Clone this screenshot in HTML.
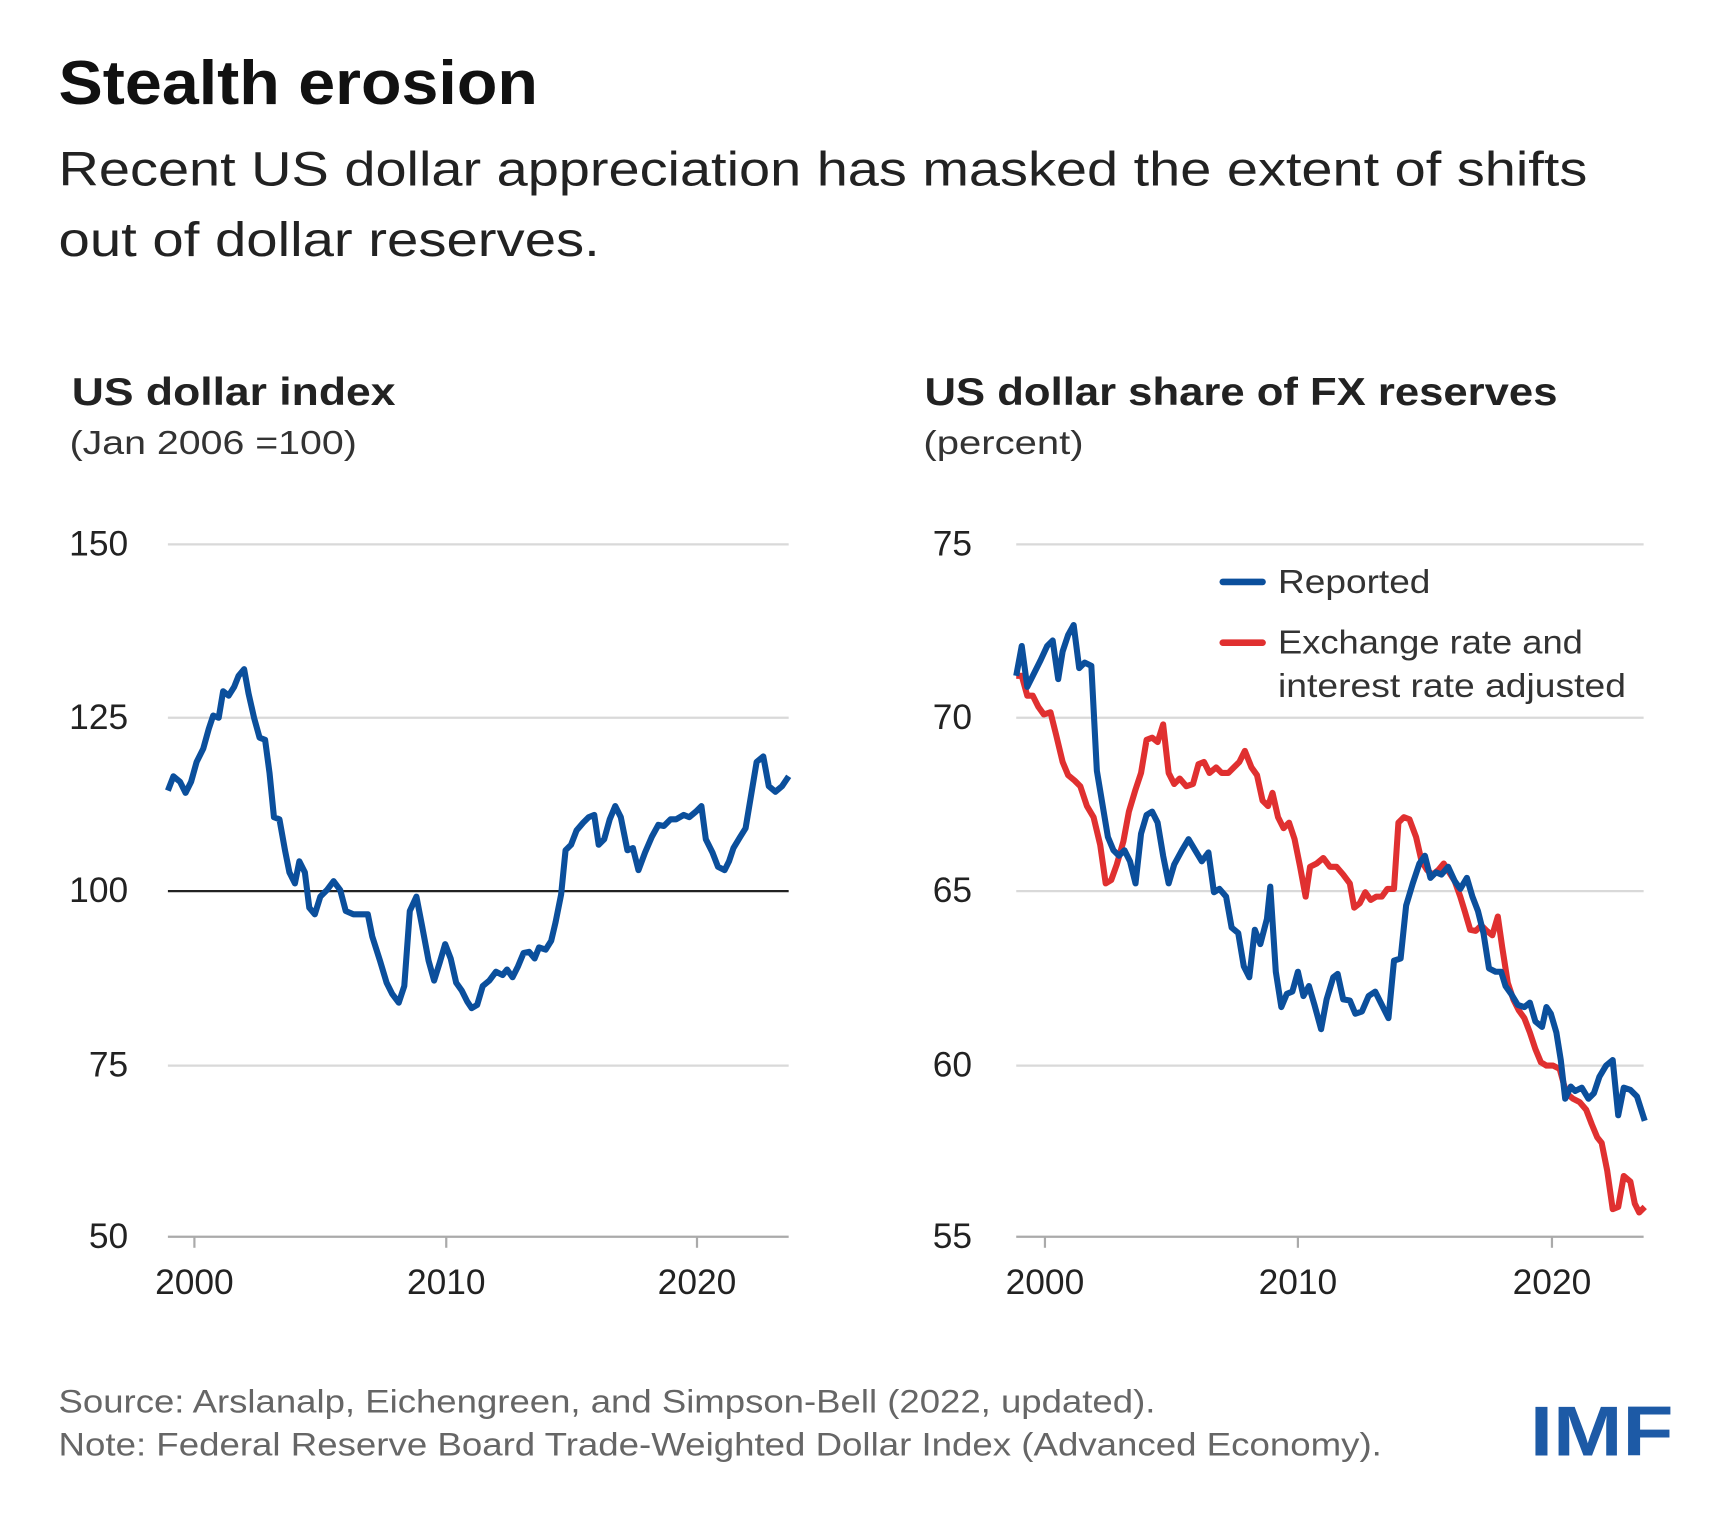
<!DOCTYPE html>
<html><head><meta charset="utf-8"><style>
html,body{margin:0;padding:0;background:#fff;}
svg{display:block;}
text{font-family:"Liberation Sans",sans-serif;}
</style></head><body>
<svg width="1732" height="1536" viewBox="0 0 1568 1391" preserveAspectRatio="none" xmlns="http://www.w3.org/2000/svg">
<rect width="1568" height="1391" fill="#fff"/>
<text x="53" y="94" font-size="56" font-weight="bold" fill="#111" textLength="434" lengthAdjust="spacingAndGlyphs">Stealth erosion</text>
<text x="53" y="168" font-size="44" fill="#222" textLength="1384" lengthAdjust="spacingAndGlyphs">Recent US dollar appreciation has masked the extent of shifts</text>
<text x="53" y="232" font-size="44" fill="#222" textLength="490" lengthAdjust="spacingAndGlyphs">out of dollar reserves.</text>

<text x="65" y="367" font-size="35" font-weight="bold" fill="#222" textLength="293" lengthAdjust="spacingAndGlyphs">US dollar index</text>
<text x="63" y="411" font-size="30" fill="#333" textLength="260" lengthAdjust="spacingAndGlyphs">(Jan 2006 =100)</text>
<text x="837" y="367" font-size="35" font-weight="bold" fill="#222" textLength="573" lengthAdjust="spacingAndGlyphs">US dollar share of FX reserves</text>
<text x="836" y="411" font-size="30" fill="#333" textLength="145" lengthAdjust="spacingAndGlyphs">(percent)</text>

<g stroke="#d9d9d9" stroke-width="2">
<line x1="152" y1="493" x2="714" y2="493"/><line x1="152" y1="650" x2="714" y2="650"/>
<line x1="152" y1="965" x2="714" y2="965"/>
<line x1="920" y1="493" x2="1488" y2="493"/><line x1="920" y1="650" x2="1488" y2="650"/>
<line x1="920" y1="807" x2="1488" y2="807"/><line x1="920" y1="965" x2="1488" y2="965"/>
</g>
<g stroke="#aaa" stroke-width="2">
<line x1="152" y1="1120" x2="714" y2="1120"/><line x1="920" y1="1120" x2="1488" y2="1120"/>
<line x1="176" y1="1120" x2="176" y2="1130"/><line x1="404" y1="1120" x2="404" y2="1130"/><line x1="631" y1="1120" x2="631" y2="1130"/>
<line x1="946" y1="1120" x2="946" y2="1130"/><line x1="1175" y1="1120" x2="1175" y2="1130"/><line x1="1405" y1="1120" x2="1405" y2="1130"/>
</g>
<line x1="152" y1="807" x2="714" y2="807" stroke="#222" stroke-width="2"/>

<g font-size="32" fill="#222" text-anchor="end">
<text x="116" y="503">150</text><text x="116" y="660">125</text><text x="116" y="817">100</text><text x="116" y="975">75</text><text x="116" y="1130">50</text>
<text x="880" y="503">75</text><text x="880" y="660">70</text><text x="880" y="817">65</text><text x="880" y="975">60</text><text x="880" y="1130">55</text>
</g>
<g font-size="32" fill="#222" text-anchor="middle">
<text x="176" y="1172">2000</text><text x="404" y="1172">2010</text><text x="631" y="1172">2020</text>
<text x="946" y="1172">2000</text><text x="1175" y="1172">2010</text><text x="1405" y="1172">2020</text>
</g>

<polyline fill="none" stroke="#0b4f9c" stroke-width="5.5" stroke-linejoin="round" points="152,716 157,703 163,708 168,718 173,708 178,690 184,678 189,660 193,648 198,650 202,626 207,630 212,622 216,612 221,606 225,628 230,650 235,668 240,670 244,700 248,740 253,742 258,770 262,790 267,800 271,780 276,790 280,822 285,828 290,812 296,806 302,798 308,806 313,825 320,828 328,828 333,828 337,848 344,870 350,890 355,900 361,908 366,893 371,825 377,812 382,838 388,870 393,888 398,872 403,855 408,868 413,890 418,897 423,907 427,913 432,910 437,893 443,888 449,880 455,883 459,878 464,885 469,875 474,863 479,862 484,868 488,858 494,860 499,852 503,835 508,810 512,770 517,765 522,752 528,745 533,740 538,738 542,765 547,760 552,742 557,730 562,740 568,770 573,768 578,788 584,772 590,758 596,747 601,748 607,742 612,742 619,738 624,740 630,735 635,730 639,760 645,772 650,785 656,788 660,780 664,768 670,758 675,750 680,720 685,690 691,685 696,712 702,717 708,712 714,703"/>

<polyline fill="none" stroke="#e03030" stroke-width="5.5" stroke-linejoin="round" points="920,612 925,612 930,630 935,630 940,640 945,647 951,645 956,665 962,690 967,702 973,707 978,712 984,730 990,740 996,765 1001,800 1006,797 1011,783 1017,762 1022,735 1028,715 1033,700 1038,670 1043,668 1048,672 1053,656 1058,700 1063,710 1068,705 1074,712 1080,710 1085,692 1090,690 1095,700 1101,695 1106,700 1112,700 1117,695 1122,690 1127,680 1133,695 1138,702 1143,725 1148,730 1152,718 1157,740 1162,750 1167,745 1172,760 1177,785 1182,812 1186,785 1192,782 1198,777 1204,785 1210,785 1216,792 1222,800 1226,822 1231,818 1236,808 1241,815 1246,812 1251,812 1256,805 1262,805 1266,745 1271,740 1276,742 1282,758 1287,780 1292,788 1297,792 1302,788 1307,782 1312,790 1317,798 1322,812 1326,825 1331,842 1336,843 1341,838 1346,843 1351,847 1356,830 1360,858 1365,890 1370,905 1375,915 1380,922 1385,935 1390,950 1395,962 1400,965 1406,965 1412,968 1418,990 1424,995 1430,998 1436,1005 1441,1018 1446,1030 1450,1035 1455,1060 1460,1095 1465,1093 1470,1065 1476,1070 1480,1090 1484,1098 1489,1093"/>

<polyline fill="none" stroke="#0b4f9c" stroke-width="5.5" stroke-linejoin="round" points="920,612 925,585 930,622 936,610 942,598 948,585 953,580 958,615 962,590 967,575 972,566 977,605 982,600 988,603 993,698 998,728 1003,758 1008,770 1013,775 1018,770 1023,780 1028,800 1033,755 1038,738 1043,735 1048,745 1053,775 1058,800 1063,783 1070,770 1076,760 1082,770 1088,780 1094,772 1099,808 1104,805 1110,812 1115,840 1121,845 1126,875 1131,885 1136,842 1141,855 1147,832 1150,803 1155,880 1160,912 1165,900 1170,898 1175,880 1180,902 1185,893 1190,910 1196,932 1201,905 1207,885 1211,882 1216,905 1222,906 1227,918 1233,916 1239,902 1245,898 1251,910 1257,922 1262,870 1268,868 1273,820 1279,800 1285,782 1290,775 1295,795 1300,790 1305,792 1311,785 1317,798 1322,805 1328,795 1333,812 1338,825 1343,845 1348,877 1354,880 1359,880 1363,893 1368,900 1374,910 1380,912 1385,908 1390,925 1396,930 1400,912 1404,918 1409,935 1413,960 1417,995 1422,984 1426,988 1432,985 1438,995 1443,990 1448,975 1454,965 1460,960 1465,1010 1470,985 1476,987 1482,993 1489,1015"/>

<line x1="1107" y1="527" x2="1143" y2="527" stroke="#0b4f9c" stroke-width="6" stroke-linecap="round"/>
<line x1="1107" y1="582" x2="1143" y2="582" stroke="#e03030" stroke-width="6" stroke-linecap="round"/>
<g font-size="30" fill="#333">
<text x="1157" y="537" textLength="138" lengthAdjust="spacingAndGlyphs">Reported</text>
<text x="1157" y="592" textLength="276" lengthAdjust="spacingAndGlyphs">Exchange rate and</text>
<text x="1157" y="631" textLength="315" lengthAdjust="spacingAndGlyphs">interest rate adjusted</text>
</g>

<g font-size="29" fill="#666">
<text x="53" y="1279" textLength="993" lengthAdjust="spacingAndGlyphs">Source: Arslanalp, Eichengreen, and Simpson-Bell (2022, updated).</text>
<text x="53" y="1318" textLength="1198" lengthAdjust="spacingAndGlyphs">Note: Federal Reserve Board Trade-Weighted Dollar Index (Advanced Economy).</text>
</g>
<text x="1385" y="1318" font-size="64" font-weight="bold" fill="#1d5aa6" textLength="130" lengthAdjust="spacingAndGlyphs">IMF</text>
</svg>
</body></html>
